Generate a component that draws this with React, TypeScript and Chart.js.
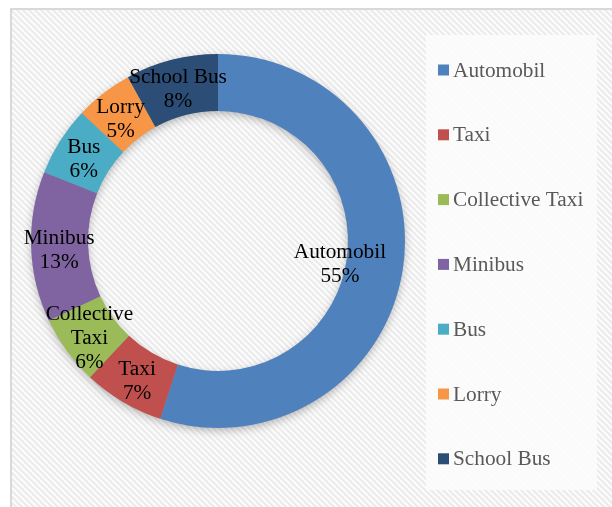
import React, { useEffect, useRef } from "react";
import { Chart, registerables } from "chart.js";

Chart.register(...registerables);

const categories = ["Automobil", "Taxi", "Collective Taxi", "Minibus", "Bus", "Lorry", "School Bus"];
const shares = [55, 7, 6, 13, 6, 5, 8];
const labelLines = [["Automobil"], ["Taxi"], ["Collective", "Taxi"], ["Minibus"], ["Bus"], ["Lorry"], ["School Bus"]];
const colors = ["#4F81BD", "#C0504D", "#9BBB59", "#8064A2", "#4BACC6", "#F79646", "#2C4D75"];
const labelRadiusFactor = [0.66, 0.85, 0.85, 0.85, 0.85, 0.85, 0.86];

const SERIF = "'Liberation Serif', 'Times New Roman', serif";

function makePattern(ctx: CanvasRenderingContext2D) {
  const n = 6;
  const c = document.createElement("canvas");
  c.width = n;
  c.height = n;
  const cx = c.getContext("2d")!;
  const img = cx.createImageData(n, n);
  for (let y = 0; y < n; y++) {
    for (let x = 0; x < n; x++) {
      const d = (((x - y) % n) + n) % n;
      const v = d < 3 ? 236 : 251;
      const i = (y * n + x) * 4;
      img.data[i] = v;
      img.data[i + 1] = v;
      img.data[i + 2] = v;
      img.data[i + 3] = 255;
    }
  }
  cx.putImageData(img, 0, 0);
  return ctx.createPattern(c, "repeat");
}

const backgroundPlugin = {
  id: "bgFrame",
  beforeDraw(chart: any) {
    const ctx = chart.ctx as CanvasRenderingContext2D;
    const W = chart.width, H = chart.height;
    ctx.save();
    ctx.fillStyle = "#ffffff";
    ctx.fillRect(0, 0, W, H);
    const pat = makePattern(ctx);
    if (pat) ctx.fillStyle = pat;
    ctx.fillRect(10, 8, W - 10, H - 8);
    ctx.fillStyle = "#d9d9d9";
    ctx.fillRect(10, 8, W - 10, 2);
    ctx.fillRect(10, 8, 2, H - 8);
    // legend box
    ctx.fillStyle = "rgba(252,252,252,0.9)";
    ctx.fillRect(426, 35, 171, 455);
    ctx.restore();
  },
};

const ringShadowPlugin = {
  id: "ringShadow",
  beforeDatasetsDraw(chart: any) {
    const meta = chart.getDatasetMeta(0);
    const a = meta.data[0];
    if (!a) return;
    const { x, y, outerRadius, innerRadius } = a.getProps(["x", "y", "outerRadius", "innerRadius"], true);
    const ctx = chart.ctx as CanvasRenderingContext2D;
    ctx.save();
    ctx.shadowColor = "rgba(0,0,0,0.3)";
    ctx.shadowBlur = 10;
    ctx.shadowOffsetX = 0;
    ctx.shadowOffsetY = 3;
    ctx.fillStyle = "#999";
    ctx.beginPath();
    ctx.arc(x, y, outerRadius - 1, 0, Math.PI * 2);
    ctx.arc(x, y, innerRadius + 1, 0, Math.PI * 2, true);
    ctx.fill("evenodd");
    ctx.restore();
  },
};

const dataLabelPlugin = {
  id: "sliceLabels",
  afterDatasetsDraw(chart: any) {
    const ctx = chart.ctx as CanvasRenderingContext2D;
    const meta = chart.getDatasetMeta(0);
    const data = chart.data.datasets[0].data as number[];
    const total = data.reduce((s, v) => s + v, 0);
    ctx.save();
    ctx.font = `21.3px ${SERIF}`;
    ctx.fillStyle = "#000000";
    ctx.textAlign = "center";
    ctx.textBaseline = "middle";
    meta.data.forEach((arc: any, i: number) => {
      const p = arc.getProps(["x", "y", "startAngle", "endAngle", "outerRadius"], true);
      const mid = (p.startAngle + p.endAngle) / 2;
      const r = p.outerRadius * labelRadiusFactor[i];
      const cx = p.x + Math.cos(mid) * r;
      const cy = p.y + Math.sin(mid) * r + 4;
      const lines = [...labelLines[i], `${Math.round((data[i] / total) * 100)}%`];
      const lh = 24;
      const top = cy - ((lines.length - 1) * lh) / 2;
      lines.forEach((t, k) => ctx.fillText(t, cx, top + k * lh));
    });
    ctx.restore();
  },
};

const legendPlugin = {
  id: "customLegend",
  afterDraw(chart: any) {
    const ctx = chart.ctx as CanvasRenderingContext2D;
    const labels = chart.data.labels as string[];
    const bg = chart.data.datasets[0].backgroundColor as string[];
    ctx.save();
    ctx.font = `21.3px ${SERIF}`;
    ctx.textBaseline = "middle";
    ctx.textAlign = "left";
    labels.forEach((l, i) => {
      const cy = 70 + i * 64.8;
      ctx.fillStyle = bg[i];
      ctx.fillRect(438, cy - 5.5, 11, 11);
      ctx.fillStyle = "#595959";
      ctx.fillText(l, 453, cy + 1);
    });
    ctx.restore();
  },
};

export default function App() {
  const ref = useRef<HTMLCanvasElement | null>(null);
  useEffect(() => {
    if (!ref.current) return;
    const chart = new Chart(ref.current, {
      type: "doughnut",
      data: {
        labels: categories,
        datasets: [
          {
            data: shares,
            backgroundColor: colors,
            borderWidth: 0,
          },
        ],
      },
      options: {
        animation: false,
        responsive: false,
        cutout: "69.5%",
        layout: { padding: { left: 31, top: 54, right: 207, bottom: 79 } },
        plugins: {
          legend: { display: false },
          tooltip: { enabled: false },
        },
      },
      plugins: [backgroundPlugin, ringShadowPlugin, dataLabelPlugin, legendPlugin],
    });
    return () => chart.destroy();
  }, []);
  return (
    <div style={{ position: "fixed", left: 0, top: 0, width: 612, height: 507 }}>
      <canvas ref={ref} width={612} height={507} style={{ width: 612, height: 507, display: "block" }} />
    </div>
  );
}
